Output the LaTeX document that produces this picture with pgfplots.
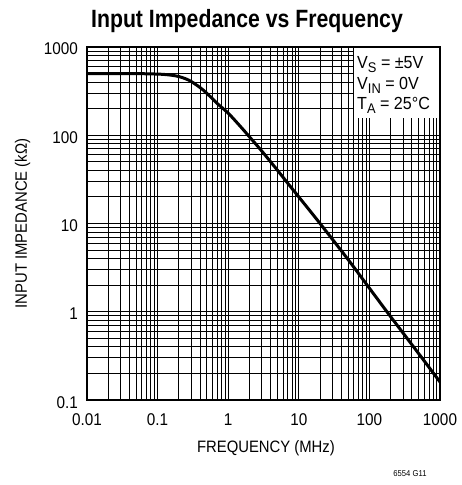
\documentclass[border=0pt]{standalone}
\usepackage{pgfplots}
\pgfplotsset{compat=1.18}
\usepackage{fontspec}
\setmainfont{Liberation Sans}[FakeStretch=0.9]
\newfontfamily\titlefont{Liberation Sans}[FakeStretch=0.85]
\newfontfamily\boxfont{Liberation Sans}[FakeStretch=0.92]
\newcommand{\sub}[1]{\raisebox{-0.22em}{\fontsize{14}{14}\selectfont #1}}

\begin{document}
\begin{tikzpicture}
\useasboundingbox (-87pt,-85pt) rectangle (375pt,400pt);

\begin{axis}[
at={(0pt,0pt)}, anchor=south west,
scale only axis,
width=353pt, height=353pt,
xmode=log, ymode=log,
xmin=0.01, xmax=1000,
ymin=0.1, ymax=1000,
xtick={0.01,0.1,1,10,100,1000},
xticklabels={0.01,0.1,1,10,100,1000},
ytick={0.1,1,10,100,1000},
yticklabels={0.1,1,10,100,1000},
major tick length=0pt, minor tick length=0pt,
grid=both,
major grid style={black, line width=0.9pt},
minor grid style={black, line width=0.9pt},
axis line style={black, line width=1.8pt},
tick label style={font=\fontsize{17}{18}\selectfont, inner sep=0pt},
xticklabel style={anchor=base, yshift=-25pt},
yticklabel style={anchor=base east, xshift=-9pt, yshift=-8pt},
label style={font=\fontsize{16.5}{18}\selectfont, inner sep=0pt},
xlabel={FREQUENCY (MHz)},
xlabel style={anchor=base, at={(axis description cs:0.507,-0.150)}},
ylabel={INPUT IMPEDANCE (k\symbol{"03A9})},
ylabel style={anchor=base, at={(axis description cs:-0.170,0.50)}},
]
\addplot [black, line width=3pt, smooth] table {
0.01 500
0.05 499
0.1 493
0.13 487
0.16 478
0.2 463
0.25 436
0.3 406
0.4 347
0.5 298
0.7 229
1 178
1.5 125
2 96
3 66
5 40
7 28.5
10 20
20 10
50 3.9
100 1.85
200 0.88
500 0.335
1000 0.16
};
\fill[white] (rel axis cs:0.757,0.799) rectangle (rel axis cs:1,1);
\draw[black, line width=1.8pt] (rel axis cs:0,0) rectangle (rel axis cs:1,1);
\end{axis}

\begin{scope}[every node/.style={inner sep=0pt, anchor=base west, font=\boxfont\fontsize{17.5}{18}\selectfont}]
\node at (270pt,331pt) {V\sub{S} = ±5V};
\node at (270pt,310pt) {V\sub{IN} = 0V};
\node at (270pt,290pt) {T\sub{A} = 25°C};
\end{scope}

\node[anchor=base, inner sep=0pt, font=\titlefont\bfseries\fontsize{25}{28}\selectfont] at (160pt,372pt) {Input Impedance vs Frequency};
\node[anchor=base, inner sep=0pt, font=\fontsize{8.5}{9}\selectfont] at (323pt,-76pt) {6554 G11};
\end{tikzpicture}
\end{document}
